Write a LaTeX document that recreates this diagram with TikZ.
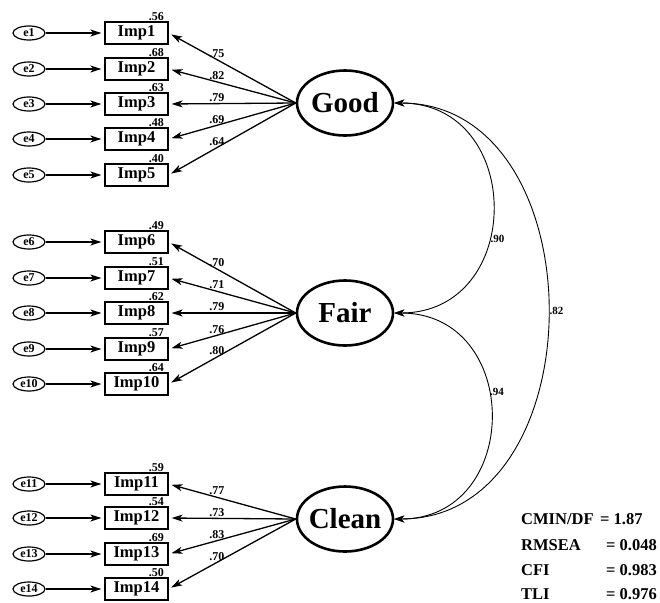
\documentclass[tikz,border=0pt]{standalone}
\usepackage{fontspec}
\setmainfont{Liberation Serif}
\usetikzlibrary{arrows.meta,shapes.geometric}

\tikzset{
  err/.style={draw, ellipse, line width=1.2pt, minimum width=32pt, minimum height=14pt, inner sep=0pt, font=\bfseries\fontsize{12}{14}\selectfont},
  item/.style={draw, rectangle, line width=1.2pt, minimum width=63pt, minimum height=22pt, inner sep=0pt, font=\bfseries\fontsize{16.5}{19}\selectfont},
  latent/.style={draw, ellipse, line width=2.6pt, minimum width=96pt, minimum height=65pt, inner sep=0pt, font=\bfseries\fontsize{29}{34}\selectfont},
  load/.style={-{Stealth[length=11pt,width=7pt,inset=3pt]}, line width=1.3pt, shorten >=3pt},
  cov/.style={{Stealth[length=10pt,width=7pt,inset=3pt]}-{Stealth[length=10pt,width=7pt,inset=3pt]}, line width=0.9pt},
  coef/.style={font=\bfseries\fontsize{12}{14}\selectfont, inner sep=1.5pt},
  gof/.style={font=\bfseries\fontsize{16.5}{20}\selectfont, inner sep=0pt, anchor=base west}
}

\begin{document}
\begin{tikzpicture}[x=1pt, y=-1pt]

\useasboundingbox (0,0) rectangle (660,602);

\node[latent] (Good) at (345,103) {\makebox[50pt]{Good}};
\node[latent] (Fair) at (345,313) {\makebox[50pt]{Fair}};
\node[latent] (Clean) at (345,519) {\makebox[50pt]{Clean}};

\foreach \i/\y/\r in {1/33/.56, 2/69/.68, 3/104/.63, 4/139/.48, 5/175/.40,
                      6/242/.49, 7/278/.51, 8/313/.62, 9/349/.57, 10/384/.64,
                      11/484/.59, 12/518/.54, 13/554/.69, 14/589/.50} {
  \node[err] (e\i) at (29,\y) {e\i};
  \node[item] (imp\i) at (136.5,\y) {Imp\i};
  \node[coef, anchor=south east, inner sep=0.5pt] (r\i) at ([xshift=-4pt]imp\i.north east) {\r};
  \draw[load] (e\i) -- (imp\i);
}

\foreach \f/\i/\l in {Good/1/.75, Good/2/.82, Good/3/.79, Good/4/.69, Good/5/.64,
                      Fair/6/.70, Fair/7/.71, Fair/8/.79, Fair/9/.76, Fair/10/.80,
                      Clean/11/.77, Clean/12/.73, Clean/13/.83, Clean/14/.70} {
  \draw[load] (\f.west) -- node[coef, above, pos=0.62] (l\i) {\l} (imp\i.east);
}

\draw[cov] (Good.east) to[out=0, in=0, looseness=1.6] node[coef, right, pos=0.6, font=\bfseries\fontsize{11}{13}\selectfont] (c1) {.90} (Fair.east);
\draw[cov] (Fair.east) to[out=0, in=0, looseness=1.6] node[coef, right, pos=0.42, font=\bfseries\fontsize{11}{13}\selectfont] (c2) {.94} (Clean.east);
\draw[cov] (Good.east) to[out=0, in=0, looseness=1.26] node[coef, right, pos=0.5, font=\bfseries\fontsize{11}{13}\selectfont] (c3) {.82} (Clean.east);

\node[gof] (k1) at (521,524) {CMIN/DF};
\node[gof] (v1) at (600,524) {= 1.87};
\node[gof] (k2) at (521,550) {RMSEA};
\node[gof] (v2) at (606,550) {= 0.048};
\node[gof] (k3) at (521,575) {CFI};
\node[gof] (v3) at (606,575) {= 0.983};
\node[gof] (k4) at (521,599) {TLI};
\node[gof] (v4) at (606,599) {= 0.976};

\end{tikzpicture}
\end{document}
